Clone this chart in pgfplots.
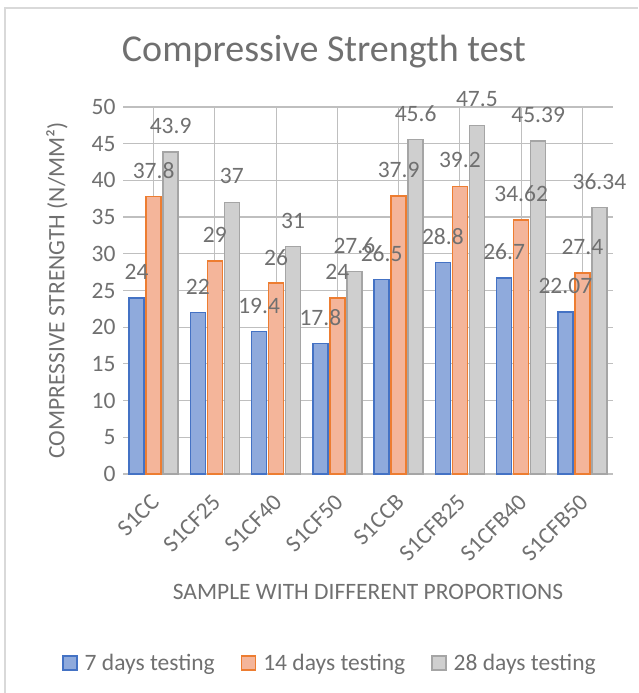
\documentclass[border=0pt]{standalone}
\usepackage{pgfplots}
\pgfplotsset{compat=1.18}
\usepackage{fontspec}
\setmainfont{Carlito}
\definecolor{txt}{HTML}{707070}
\definecolor{grid}{HTML}{D9D9D9}
\definecolor{bluefill}{HTML}{8FAADC}
\definecolor{blueline}{HTML}{4472C4}
\definecolor{orfill}{HTML}{F4B59A}
\definecolor{orline}{HTML}{ED7D31}
\definecolor{grfill}{HTML}{CFCFCF}
\definecolor{grline}{HTML}{A5A5A5}
\newcommand{\fs}{\fontsize{23.5pt}{28pt}\selectfont}
\begin{document}
\begin{tikzpicture}
\path[use as bounding box] (0,0) rectangle (638pt,693pt);
\draw[grid, line width=1.5pt] (5pt,0pt) -- (5pt,685pt) -- (638pt,685pt);
\begin{axis}[
  at={(123pt,219pt)}, anchor=south west,
  scale only axis, width=490pt, height=367pt,
  ybar, bar width=15pt,
  xmin=-0.5, xmax=7.5, ymin=0, ymax=50,
  ytick={0,5,...,50},
  xtick={0,...,7},
  xticklabels={S1CC,S1CF25,S1CF40,S1CF50,S1CCB,S1CFB25,S1CFB40,S1CFB50},
  major tick length=0pt,
  axis line style={draw=none},
  ymajorgrids, grid style={grid, line width=1.2pt},
  /pgf/number format/assume math mode=true,
  tick label style={font=\fs, text=txt},
  yticklabel style={xshift=-4pt},
  xticklabel style={xshift=4pt, yshift=-22pt, rotate=45, anchor=east},
  xlabel={SAMPLE WITH DIFFERENT PROPORTIONS},
  ylabel={COMPRESSIVE STRENGTH (N/MM²)},
  every axis x label/.style={at={(axis description cs:0.5,-0.3215)}, anchor=center, font=\fs, text=txt},
  every axis y label/.style={at={(axis description cs:-0.135,0.5)}, rotate=90, anchor=center, font=\fs, text=txt},
  title={Compressive Strength test},
  every axis title/.style={at={(axis description cs:0.41,1.15)}, anchor=center, font=\fontsize{38pt}{44pt}\selectfont, text=txt},
  nodes near coords,
  every node near coord/.append style={anchor=center, yshift=26pt, font=\fs, text=txt},
  legend columns=3,
  legend style={at={(axis description cs:0.4224,-0.515)}, anchor=center, draw=none, fill=none,
    font=\fs, text=txt, /tikz/every even column/.append style={column sep=24pt},
    /tikz/every odd column/.append style={column sep=5pt}},
  legend image code/.code={\draw[#1, line width=1.5pt] (0pt,-7pt) rectangle (14pt,7pt);},
  clip=false,
]
\addplot[draw=blueline, fill=bluefill, line width=1.5pt, bar shift=-17pt] coordinates
  {(0,24) (1,22) (2,19.4) (3,17.8) (4,26.5) (5,28.8) (6,26.7) (7,22.07)};
\addplot[draw=orline, fill=orfill, line width=1.5pt, bar shift=0pt] coordinates
  {(0,37.8) (1,29) (2,26) (3,24) (4,37.9) (5,39.2) (6,34.62) (7,27.4)};
\addplot[draw=grline, fill=grfill, line width=1.5pt, bar shift=17pt] coordinates
  {(0,43.9) (1,37) (2,31) (3,27.6) (4,45.6) (5,47.5) (6,45.39) (7,36.34)};
\legend{7 days testing, 14 days testing, 28 days testing}
\end{axis}
\end{tikzpicture}
\end{document}
